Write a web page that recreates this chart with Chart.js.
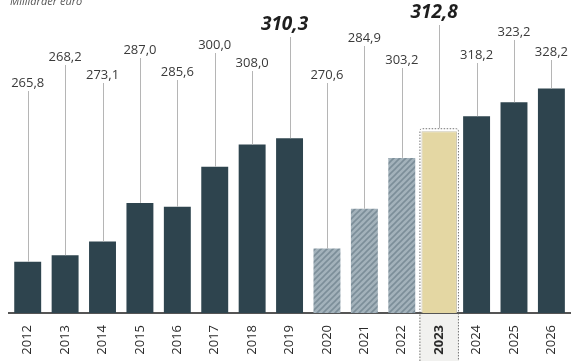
<!DOCTYPE html>
<html>
<head>
<meta charset="utf-8">
<script src="https://cdn.jsdelivr.net/npm/chart.js@4/dist/chart.umd.min.js"></script>
<style>
  html, body { margin: 0; padding: 0; background: #fff; }
</style>
</head>
<body>
<canvas id="myChart" width="571" height="361"></canvas>
<script>
// data (milliarder euro)
const years = ['2012', '2013', '2014', '2015', '2016', '2017', '2018', '2019', '2020', '2021', '2022', '2023', '2024', '2025', '2026'];
const values = [265.8, 268.2, 273.1, 287.0, 285.6, 300.0, 308.0, 310.3, 270.6, 284.9, 303.2, 312.8, 318.2, 323.2, 328.2];
const valueLabels = ['265,8', '268,2', '273,1', '287,0', '285,6', '300,0', '308,0', '310,3', '270,6', '284,9', '303,2', '312,8', '318,2', '323,2', '328,2'];
const kinds = ['normal', 'normal', 'normal', 'normal', 'normal', 'normal', 'normal', 'normal', 'covid', 'covid', 'covid', 'current', 'normal', 'normal', 'normal'];
const boldYears = ['2019', '2023'];
const currentYear = '2023';

// layout only: vertical centre of each value label (px)
const labelCentres = [83, 57, 75, 50, 72, 45, 63, 25, 75, 38, 60, 13, 55, 32, 52];

const ctx = document.getElementById('myChart').getContext('2d');

// hatched fill for 2020-2022
function hatch() {
    const c = document.createElement('canvas');
    c.width = 6; c.height = 6;
    const g = c.getContext('2d');
    g.fillStyle = '#a3b2bb';
    g.fillRect(0, 0, 6, 6);
    g.strokeStyle = '#7c8e99';
    g.lineWidth = 1.6;
    g.beginPath();
    g.moveTo(-1, 7); g.lineTo(7, -1);
    g.moveTo(-4, 4); g.lineTo(4, -4);
    g.moveTo(2, 10); g.lineTo(10, 2);
    g.stroke();
    return ctx.createPattern(c, 'repeat');
}
const hatchFill = hatch();

const colours = kinds.map(k => k === 'covid' ? hatchFill : (k === 'current' ? '#e4d7a3' : '#2e444e'));

const labelPlugin = {
    id: 'valueLabels',
    beforeDraw(chart) {
        // dotted frame around the current year, drawn under axis and bars
        const g = chart.ctx;
        const i = years.indexOf(currentYear);
        const meta = chart.getDatasetMeta(1).data[i];
        if (!meta) return;
        const left = meta.x - meta.width / 2 - 2;
        const right = meta.x + meta.width / 2 + 2;
        const top = meta.y - 3;
        const bottom = chart.height;
        g.save();
        g.fillStyle = '#f1f1ef';
        g.fillRect(left, chart.chartArea.bottom, right - left, bottom - chart.chartArea.bottom);
        g.setLineDash([1.5, 1.5]);
        g.strokeStyle = '#777';
        g.lineWidth = 1;
        g.beginPath();
        g.moveTo(left + 0.5, bottom);
        g.lineTo(left + 0.5, top + 3);
        g.quadraticCurveTo(left + 0.5, top + 0.5, left + 3, top + 0.5);
        g.lineTo(right - 3, top + 0.5);
        g.quadraticCurveTo(right - 0.5, top + 0.5, right - 0.5, top + 3);
        g.lineTo(right - 0.5, bottom);
        g.stroke();
        g.restore();
    },
    afterDatasetsDraw(chart) {
        const g = chart.ctx;
        g.save();
        years.forEach((yr, i) => {
            const ds = kinds[i] === 'current' ? 1 : 0;
            const bar = chart.getDatasetMeta(ds).data[i];
            const big = boldYears.includes(yr);
            const cy = labelCentres[i];
            const lineTop = cy + (big ? 12 : 8);
            const lineBottom = kinds[i] === 'current' ? bar.y - 3 : bar.y;
            g.strokeStyle = '#b5b5b5';
            g.lineWidth = 1;
            g.beginPath();
            g.moveTo(Math.round(bar.x) + 0.5, lineTop);
            g.lineTo(Math.round(bar.x) + 0.5, lineBottom);
            g.stroke();
            g.fillStyle = big ? '#1e1e1e' : '#3a3a3a';
            g.font = big ? 'italic bold 19px "Open Sans"' : '13px "Open Sans"';
            g.textAlign = 'center';
            g.textBaseline = 'middle';
            g.fillText(valueLabels[i], big ? bar.x - 5 : bar.x, cy);
        });
        // unit caption, clipped at the top edge
        g.fillStyle = '#555';
        g.font = 'italic 11px "Open Sans"';
        g.textAlign = 'left';
        g.textBaseline = 'alphabetic';
        g.fillText('Milliarder euro', 10, 5);
        g.restore();
    }
};

new Chart(ctx, {
    type: 'bar',
    data: {
        labels: years,
        datasets: [{
            data: values.map((v, i) => kinds[i] === 'current' ? null : v),
            backgroundColor: colours,
            barPercentage: 0.72,
            categoryPercentage: 1
        }, {
            data: values.map((v, i) => kinds[i] === 'current' ? v : null),
            backgroundColor: colours,
            borderColor: '#c9c3ad',
            borderWidth: 1,
            barPercentage: 0.95,
            categoryPercentage: 1
        }]
    },
    options: {
        responsive: false,
        animation: false,
        layout: { padding: { left: 9, right: 0, top: 0, bottom: 0 } },
        datasets: { bar: { grouped: false } },
        scales: {
            x: {
                grid: { display: false },
                border: { display: true, color: '#555', width: 2 },
                afterFit: function(scale) { scale.height = 48; },
                ticks: {
                    minRotation: 90,
                    maxRotation: 90,
                    padding: 4,
                    color: '#2a2a2a',
                    font: function(c) {
                        return { family: 'Open Sans', size: 13, weight: years[c.index] === currentYear ? 'bold' : 'normal' };
                    }
                }
            },
            y: {
                display: false,
                min: 247.4,
                max: 360
            }
        },
        plugins: {
            legend: { display: false },
            tooltip: { enabled: false }
        }
    },
    plugins: [labelPlugin]
});
</script>
</body>
</html>
